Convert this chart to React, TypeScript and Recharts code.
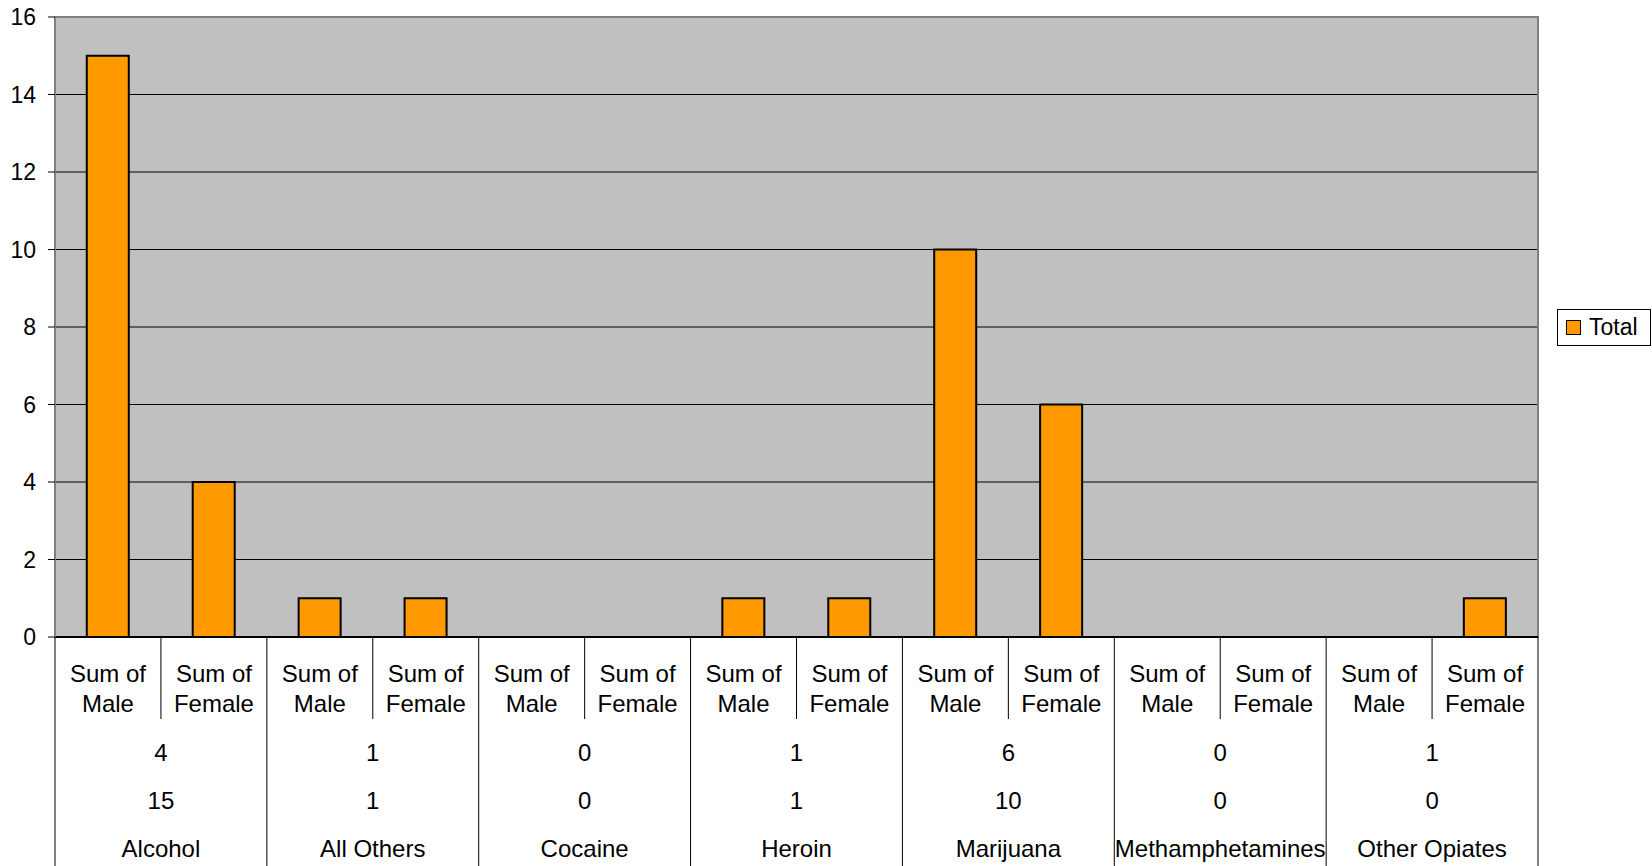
import React from "react"
import {
  BarChart,
  Bar,
  XAxis,
  YAxis,
  CartesianGrid,
  ReferenceArea,
} from "recharts"

const groups = [
  "Alcohol",
  "All Others",
  "Cocaine",
  "Heroin",
  "Marijuana",
  "Methamphetamines",
  "Other Opiates",
]
const maleValues = [15, 1, 0, 1, 10, 0, 0]
const femaleValues = [4, 1, 0, 1, 6, 0, 1]
const seriesLabels = ["Sum of Male", "Sum of Female"]
const yTicks = [0, 2, 4, 6, 8, 10, 12, 14, 16]

const W = 1652
const H = 866
const PLOT_LEFT = 55
const PLOT_RIGHT = 1538
const PLOT_TOP = 17
const PLOT_BOTTOM = 637
const FONT = "'Liberation Sans', Arial, sans-serif"

const chartData = groups.flatMap((g, i) => [
  { key: `${g}|m`, group: g, label: seriesLabels[0], total: maleValues[i] },
  { key: `${g}|f`, group: g, label: seriesLabels[1], total: femaleValues[i] },
])

const slot = (PLOT_RIGHT - PLOT_LEFT) / chartData.length

function CategoryTick(props: any) {
  const { x, index } = props
  const row = chartData[index]
  const [l1, l2] = row.label.replace("Sum of ", "Sum of|").split("|")
  const isGroupStart = index % 2 === 0
  const isLast = index === chartData.length - 1
  const gi = Math.floor(index / 2)
  const txt = { fontFamily: FONT, fontSize: 24, fill: "#000", textAnchor: "middle" as const, dominantBaseline: "central" as const }
  return (
    <g>
      <line
        x1={x - slot / 2}
        x2={x - slot / 2}
        y1={PLOT_BOTTOM}
        y2={isGroupStart ? H : 719}
        stroke="#000"
        strokeWidth={1}
      />
      {isLast && (
        <line x1={x + slot / 2} x2={x + slot / 2} y1={PLOT_BOTTOM} y2={H} stroke="#000" strokeWidth={1} />
      )}
      <text x={x} y={673} {...txt}>{l1}</text>
      <text x={x} y={703} {...txt}>{l2}</text>
      {!isGroupStart && (
        <>
          <text x={x - slot / 2} y={752} {...txt}>{femaleValues[gi]}</text>
          <text x={x - slot / 2} y={800} {...txt}>{maleValues[gi]}</text>
          <text x={x - slot / 2} y={848} {...txt}>{groups[gi]}</text>
        </>
      )}
    </g>
  )
}

function LegendBox() {
  return (
    <div
      style={{
        position: "absolute",
        left: 1557,
        top: 309,
        width: 92,
        height: 35,
        border: "1px solid #000",
        background: "#fff",
        display: "flex",
        alignItems: "center",
        fontFamily: FONT,
        fontSize: 23,
        color: "#000",
      }}
    >
      <span
        style={{
          display: "inline-block",
          width: 13,
          height: 13,
          background: "#FF9900",
          border: "1px solid #000",
          marginLeft: 8,
          marginRight: 8,
        }}
      />
      Total
    </div>
  )
}

export default function App() {
  return (
    <div style={{ position: "relative", width: W, height: H, background: "#fff" }}>
      <style>{`body{margin:0}`}</style>
      <BarChart
        width={W}
        height={H}
        data={chartData}
        margin={{ top: PLOT_TOP, right: W - PLOT_RIGHT, bottom: 0, left: 0 }}
        barCategoryGap="30%"
      >
        <CartesianGrid
          vertical={false}
          stroke="#000"
          fill="#C0C0C0"
          fillOpacity={1}
          horizontalValues={yTicks}
        />
        <ReferenceArea y1={0} y2={16} fill="none" stroke="#808080" strokeWidth={2} />
        <XAxis
          dataKey="key"
          interval={0}
          height={H - PLOT_BOTTOM}
          tickLine={false}
          axisLine={{ stroke: "#000", strokeWidth: 2 }}
          tick={<CategoryTick />}
        />
        <YAxis
          width={PLOT_LEFT}
          domain={[0, 16]}
          ticks={yTicks}
          interval={0}
          tickSize={7}
          tickMargin={12}
          axisLine={{ stroke: "#808080", strokeWidth: 2 }}
          tickLine={{ stroke: "#000" }}
          tick={{ fontFamily: FONT, fontSize: 23, fill: "#000" }}
        />
        <Bar
          dataKey="total"
          name="Total"
          fill="#FF9900"
          stroke="#000"
          strokeWidth={2}
          isAnimationActive={false}
        />
      </BarChart>
      <LegendBox />
    </div>
  )
}
